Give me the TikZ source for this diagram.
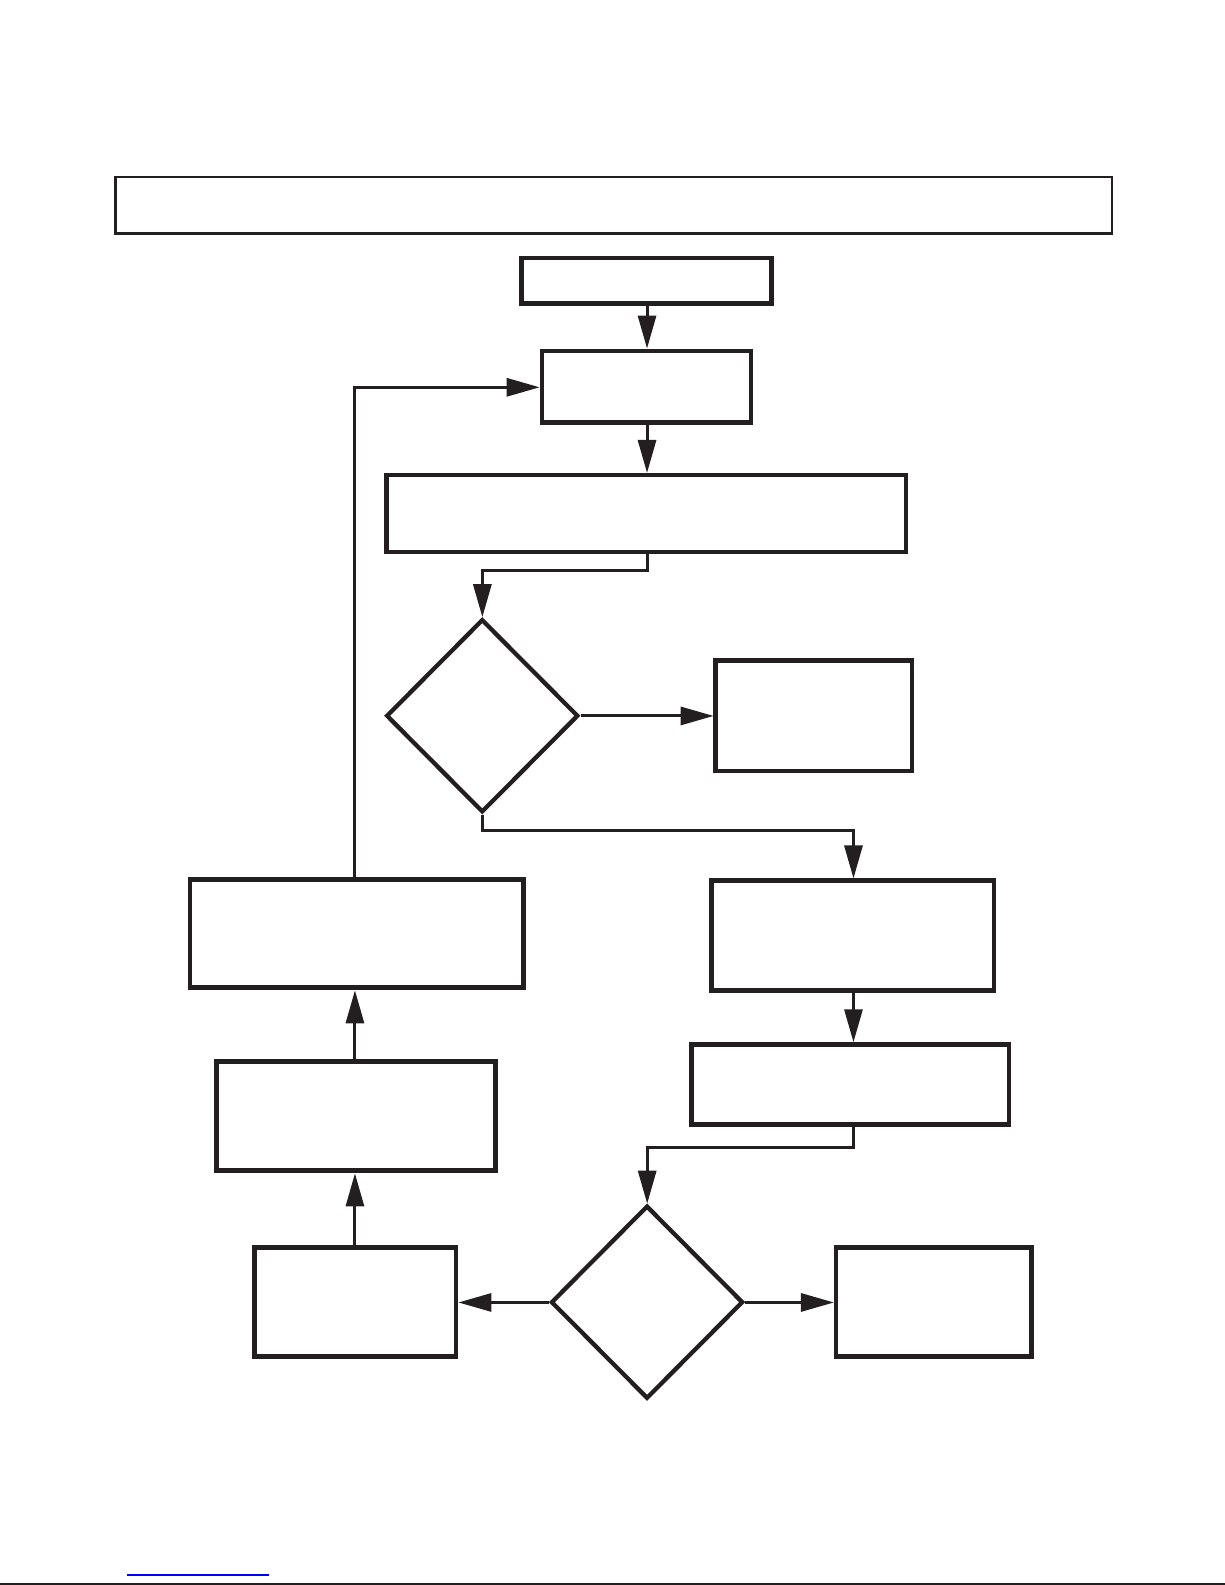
\documentclass[tikz,border=0pt]{standalone}
\usetikzlibrary{shapes.geometric,arrows.meta}
\definecolor{ink}{HTML}{231F20}
\definecolor{linkblue}{HTML}{0000FF}
\begin{document}
\begin{tikzpicture}[x=1pt,y=-1pt,scale=1.011,
  every node/.append style={transform shape},
  box/.style={draw=ink,line width=4.6pt,inner sep=0pt,fill=white},
  dia/.style={draw=ink,line width=4.3pt,diamond,aspect=1,inner sep=0pt,minimum width=190pt,minimum height=191pt},
  conn/.style={draw=ink,line width=3pt,-{Triangle[length=33pt,width=18pt]}},
  plain/.style={draw=ink,line width=2.5pt}]
\useasboundingbox (0,0) rectangle (1211.67,1567.75);
\fill[white] (0,0) rectangle (1211.67,1567.75);
% top banner
\node[box,line width=2.5pt,minimum width=986pt,minimum height=56pt] (T) at (607,203) {};
\node[box,minimum width=247pt,minimum height=45pt] (A) at (639.5,277.5) {};
\node[box,minimum width=207pt,minimum height=71pt] (B) at (639.5,382.5) {};
\node[box,minimum width=514pt,minimum height=76pt] (C) at (639,508) {};
\node[dia] (D1) at (477,708) {};
\node[box,minimum width=194pt,minimum height=109pt] (E) at (805,708) {};
\node[box,minimum width=279pt,minimum height=109pt] (F) at (843.5,925.5) {};
\node[box,minimum width=314pt,minimum height=79pt] (G) at (841,1072.5) {};
\node[dia] (D2) at (640,1288) {};
\node[box,minimum width=193pt,minimum height=108pt] (H) at (923.5,1288) {};
\node[box,minimum width=199pt,minimum height=108pt] (I) at (351.5,1288) {};
\node[box,minimum width=276pt,minimum height=108pt] (J) at (352,1104) {};
\node[box,minimum width=330pt,minimum height=107pt] (K) at (353,923.5) {};
% connectors
\draw[conn] (A.south -| 640,0) -- (B.north -| 640,0);
\draw[conn] (B.south -| 640,0) -- (C.north -| 640,0);
\coordinate (c1) at (640,564);
\draw[conn] (C.south -| c1) -- (c1) -| (D1.north);
\draw[conn] (D1.east) -- (E.west);
\coordinate (c2) at (477,821);
\coordinate (c3) at (844,821);
\draw[conn] (D1.south) -- (c2) -- (c3) -- (F.north -| c3);
\draw[conn] (F.south -| c3) -- (G.north -| c3);
\coordinate (c4) at (844,1135);
\draw[conn] (G.south -| c4) -- (c4) -| (D2.north);
\draw[conn] (D2.east) -- (H.west);
\draw[conn] (D2.west) -- (I.east);
\coordinate (c5) at (351,0);
\draw[conn] (I.north -| c5) -- (J.south -| c5);
\draw[conn] (J.north -| c5) -- (K.south -| c5);
\coordinate (c6) at (351,383);
\draw[conn] (K.north -| c6) -- (c6) -- (B.west |- c6);
% bottom lines
\coordinate (bl) at (0,1566.3);
\coordinate (br) at (1211.67,1566.3);
\draw[plain] (bl) -- (br);
\coordinate (ul) at (125.6,1557.3);
\coordinate (ur) at (266,1557.3);
\draw[linkblue,line width=1.6pt] (ul) -- (ur);
\end{tikzpicture}
\end{document}
